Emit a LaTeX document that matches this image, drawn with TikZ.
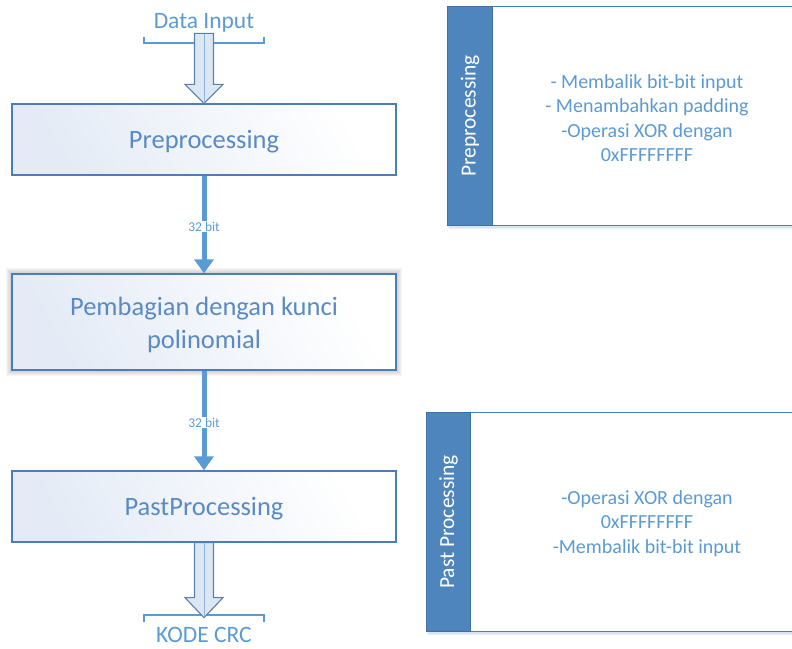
\documentclass[tikz,border=0pt]{standalone}
\usepackage{fontspec}
\setmainfont{Carlito}
\usetikzlibrary{arrows.meta,calc}
\definecolor{boxborder}{HTML}{4A7EBB}
\definecolor{boxtext}{HTML}{5A8AC6}
\definecolor{lineblue}{HTML}{5B9BD5}
\definecolor{sidefill}{HTML}{4F85BD}
\definecolor{sideborder}{HTML}{3F6FA3}
\definecolor{arrowfill}{HTML}{DCE7F4}
\definecolor{arrowborder}{HTML}{5A80AC}
\definecolor{arrowmid}{HTML}{8FB3DA}
\definecolor{gradstart}{HTML}{E4EBF6}
\tikzset{
  mainbox/.style={draw=boxborder, line width=1.3pt, left color=gradstart, right color=white, shading angle=120,
    minimum width=384pt, inner sep=0pt},
  maintext/.style={align=center, text=boxtext, font=\fontsize{26.5}{33}\selectfont, inner sep=0pt},
  bitlabel/.style={fill=white, text=lineblue, font=\fontsize{13.5}{15}\selectfont, inner sep=1pt},
  flow/.style={draw=lineblue, line width=5pt, -{Triangle[width=19pt,length=14pt]}},
  blockarrow/.style={draw=arrowborder, line width=1.1pt, fill=arrowfill, line join=miter},
  bracketline/.style={draw=lineblue, line width=1.2pt},
  endtext/.style={text=lineblue, font=\fontsize{23.5}{26}\selectfont, inner sep=0pt},
  panel/.style={draw=boxborder, line width=1pt, fill=white, anchor=north west, inner sep=0pt},
  sidebar/.style={draw=sideborder, line width=1pt, fill=sidefill, anchor=north west, inner sep=0pt},
  sidetext/.style={text=white, rotate=90, font=\fontsize{21.5}{24}\selectfont, inner sep=0pt},
  paneltext/.style={text=lineblue, align=center, font=\fontsize{20}{24.5}\selectfont, inner sep=0pt},
}
\begin{document}
\begin{tikzpicture}[x=1pt,y=-1pt]
\useasboundingbox (0,0) rectangle (792,648);
\clip (0,0) rectangle (792,648);

% ---------- right panels ----------
\fill[sidefill, opacity=0.12] (449,9) rectangle (800,229);
\fill[sidefill, opacity=0.10] (448,8) rectangle (800,227.5);
\node[panel, minimum width=360pt, minimum height=219pt] (p1) at (447,6) {};
\node[sidebar, minimum width=45pt, minimum height=219pt] (s1) at (447,6) {};
\node[sidetext] (s1t) at (s1.center) {Preprocessing};
\node[paneltext] (p1t) at (647,118) {- Membalik bit-bit input\\- Menambahkan padding\\-Operasi XOR dengan\\0xFFFFFFFF};

\fill[sidefill, opacity=0.12] (428,415) rectangle (800,635);
\fill[sidefill, opacity=0.10] (427,414) rectangle (800,633.5);
\node[panel, minimum width=380pt, minimum height=219pt] (p2) at (426,412) {};
\node[sidebar, minimum width=44pt, minimum height=219pt] (s2) at (426,412) {};
\node[sidetext] (s2t) at (s2.center) {Past Processing};
\node[paneltext] (p2t) at (647,523.5) {-Operasi XOR dengan\\0xFFFFFFFF\\-Membalik bit-bit input};

% ---------- glow of middle box ----------
\foreach \g in {1,2,3,4,5,6}{
  \fill[black, opacity=0.035] (12-\g,274-\g) rectangle (396+\g,370+\g);
}

% ---------- main boxes ----------
\node[mainbox, minimum height=71pt] (pre) at (204,139.5) {};
\node[maintext] (pret) at ($(pre.center)+(0,2.5)$) {Preprocessing};
\node[mainbox, minimum height=96pt] (div) at (204,322) {};
\node[maintext] (divt) at ($(div.center)+(0,3)$) {Pembagian dengan kunci\\polinomial};
\node[mainbox, minimum height=71pt] (post) at (204,506.5) {};
\node[maintext] (postt) at ($(post.center)+(0,2.5)$) {PastProcessing};

% ---------- input ----------
\node[endtext] (din) at (204,23) {Data Input};
\draw[bracketline] (144,36.5) -- (144,43) -- (264,43) -- (264,36.5);
\draw[blockarrow] ($(pre.north)+(-9.5,-70)$) -- ($(pre.north)+(9.5,-70)$) -- ($(pre.north)+(9.5,-19)$)
  -- ($(pre.north)+(19,-19)$) -- (pre.north) -- ($(pre.north)+(-19,-19)$) -- ($(pre.north)+(-9.5,-19)$) -- cycle;
\draw[arrowmid, line width=0.9pt] ($(pre.north)+(0,-69)$) -- (pre.north);

% ---------- flow arrows ----------
\draw[flow] (pre.south) -- (div.north) node[bitlabel, pos=0.52] (l1) {32 bit};
\draw[flow] (div.south) -- (post.north) node[bitlabel, pos=0.52] (l2) {32 bit};

% ---------- output ----------
\draw[bracketline] (144,622) -- (144,615) -- (264,615) -- (264,622);
\draw[blockarrow] ($(post.south)+(-9.5,0)$) -- ($(post.south)+(9.5,0)$) -- ($(post.south)+(9.5,55)$)
  -- ($(post.south)+(19,55)$) -- ($(post.south)+(0,75)$) -- ($(post.south)+(-19,55)$) -- ($(post.south)+(-9.5,55)$) -- cycle;
\draw[arrowmid, line width=0.9pt] (post.south) -- ($(post.south)+(0,74)$);
\node[endtext] (kode) at (204,635) {KODE CRC};
\end{tikzpicture}
\end{document}
